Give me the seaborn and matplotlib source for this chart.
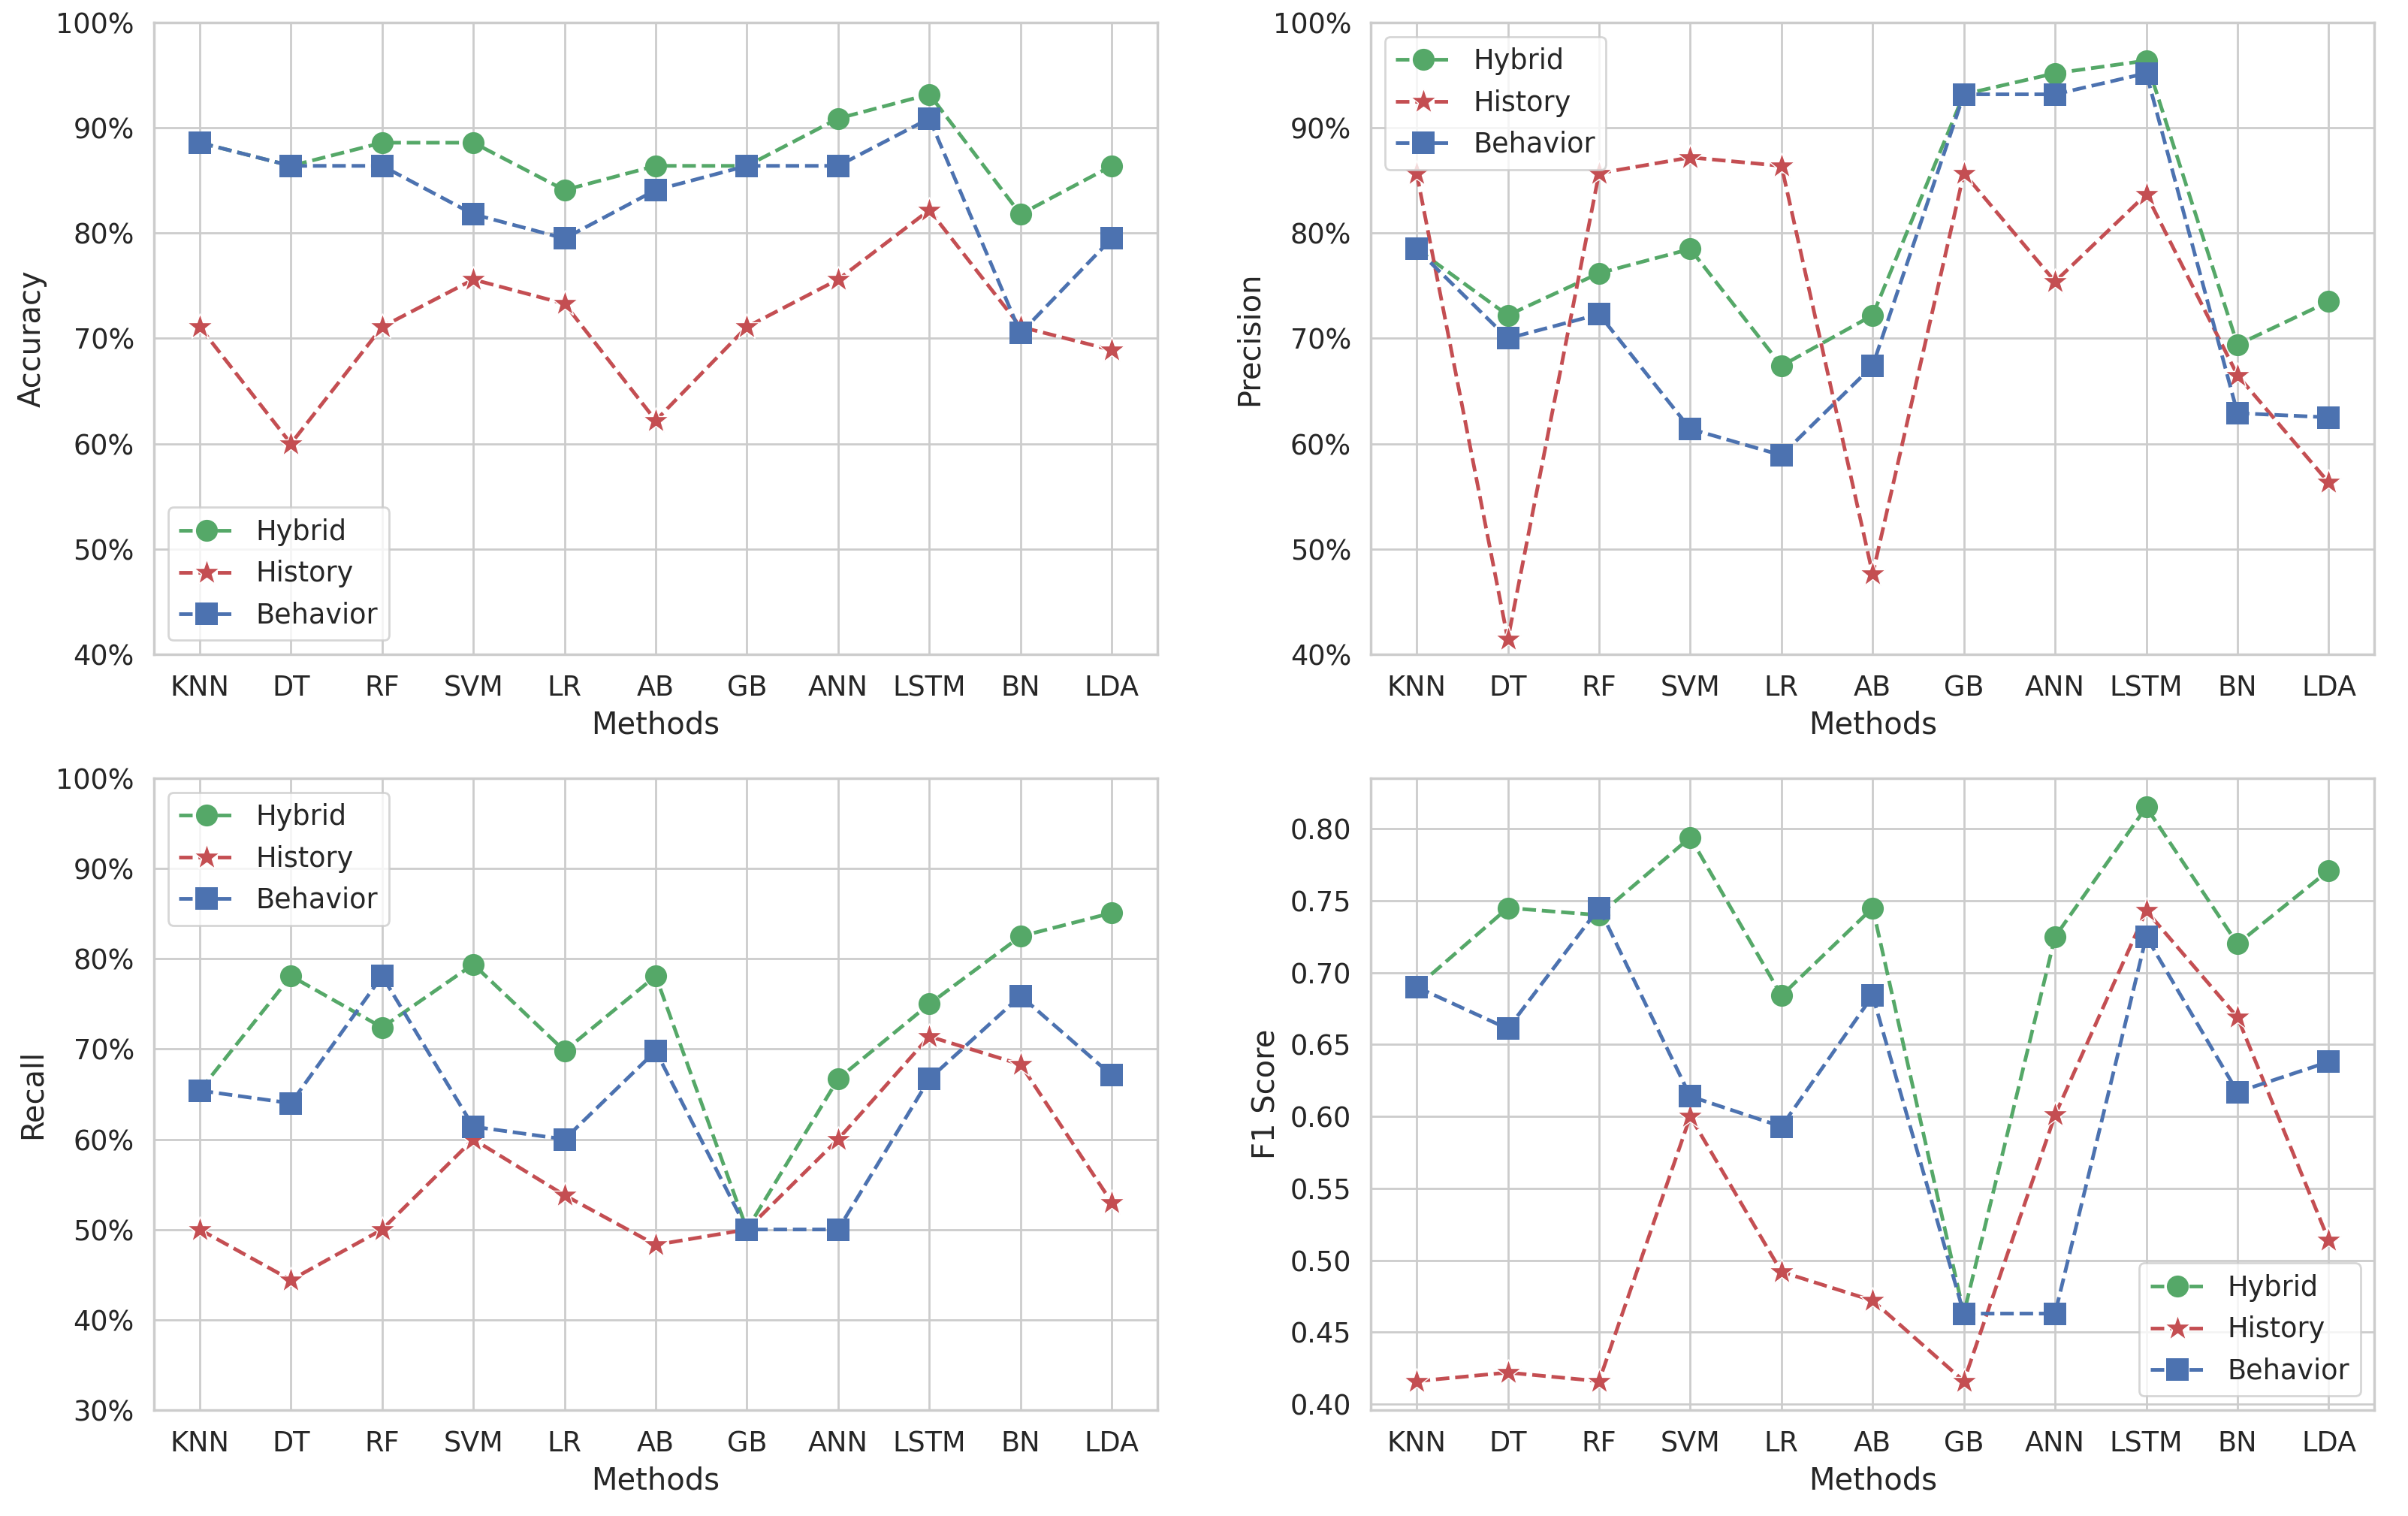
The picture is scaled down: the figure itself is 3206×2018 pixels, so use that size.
import pandas as pd
import matplotlib.pyplot as plt
import seaborn as sns
from matplotlib.ticker import PercentFormatter

methods = ["KNN", "DT", "RF", "SVM", "LR", "AB", "GB", "ANN", "LSTM", "BN", "LDA"]

# accuracy (%)
acc_hybrid = [88.6, 86.4, 88.6, 88.6, 84.1, 86.4, 86.4, 90.9, 93.2, 81.8, 86.4]
acc_history = [71.1, 60.0, 71.1, 75.6, 73.3, 62.2, 71.1, 75.6, 82.2, 71.1, 68.9]
acc_behavior = [88.6, 86.4, 86.4, 81.8, 79.5, 84.1, 86.4, 86.4, 90.9, 70.5, 79.5]

# precision (%)
prec_hybrid = [78.5, 72.2, 76.2, 78.5, 67.4, 72.2, 93.2, 95.2, 96.4, 69.4, 73.5]
prec_history = [85.7, 41.4, 85.7, 87.2, 86.4, 47.6, 85.7, 75.4, 83.7, 66.5, 56.3]
prec_behavior = [78.5, 70.0, 72.3, 61.4, 58.9, 67.4, 93.2, 93.2, 95.2, 62.9, 62.5]

# recall (%)
rec_hybrid = [65.4, 78.1, 72.4, 79.4, 69.8, 78.1, 50.0, 66.7, 75.0, 82.5, 85.1]
rec_history = [50.0, 44.4, 50.0, 60.0, 53.8, 48.3, 50.0, 60.0, 71.4, 68.3, 53.0]
rec_behavior = [65.4, 64.0, 78.1, 61.4, 60.0, 69.8, 50.0, 50.0, 66.7, 75.9, 67.1]

# f1 score
f1_hybrid = [0.690, 0.745, 0.740, 0.794, 0.684, 0.745, 0.463, 0.725, 0.815, 0.720, 0.771]
f1_history = [0.416, 0.422, 0.416, 0.600, 0.492, 0.472, 0.416, 0.601, 0.743, 0.669, 0.514]
f1_behavior = [0.690, 0.661, 0.745, 0.614, 0.593, 0.684, 0.463, 0.463, 0.725, 0.617, 0.638]

sns.set_theme(style="whitegrid", font_scale=1.2)
plt.rcParams["font.family"] = ["DejaVu Sans"]

pal = sns.color_palette("deep")
styles = {"Hybrid": (pal[2], "o"), "History": (pal[3], "*"), "Behavior": (pal[0], "s")}

panels = [
    ("Accuracy", acc_hybrid, acc_history, acc_behavior, (40, 100), "lower left", True),
    ("Precision", prec_hybrid, prec_history, prec_behavior, (40, 100), "upper left", True),
    ("Recall", rec_hybrid, rec_history, rec_behavior, (30, 100), "upper left", True),
    ("F1 Score", f1_hybrid, f1_history, f1_behavior, None, "lower right", False),
]

fig, axes = plt.subplots(2, 2, figsize=(16.03, 10.09), dpi=200)
for ax, (name, hyb, his, beh, ylim, loc, pct) in zip(axes.flat, panels):
    for label, vals in [("Hybrid", hyb), ("History", his), ("Behavior", beh)]:
        color, marker = styles[label]
        df = pd.DataFrame({"Methods": methods, name: vals})
        sns.lineplot(data=df, x="Methods", y=name, ax=ax, sort=False, color=color,
                     marker=marker, markersize=13 if marker == "*" else 10.5,
                     markeredgewidth=0.5 if marker == "*" else 0,
                     linestyle="--", linewidth=1.75, label=label)
    if ylim:
        ax.set_ylim(*ylim)
    if pct:
        ax.yaxis.set_major_formatter(PercentFormatter(xmax=100, decimals=0))
    ax.legend(loc=loc)

plt.subplots_adjust(left=0.064, right=0.986, top=0.985, bottom=0.07, wspace=0.213, hspace=0.197)
plt.savefig("out.png")
